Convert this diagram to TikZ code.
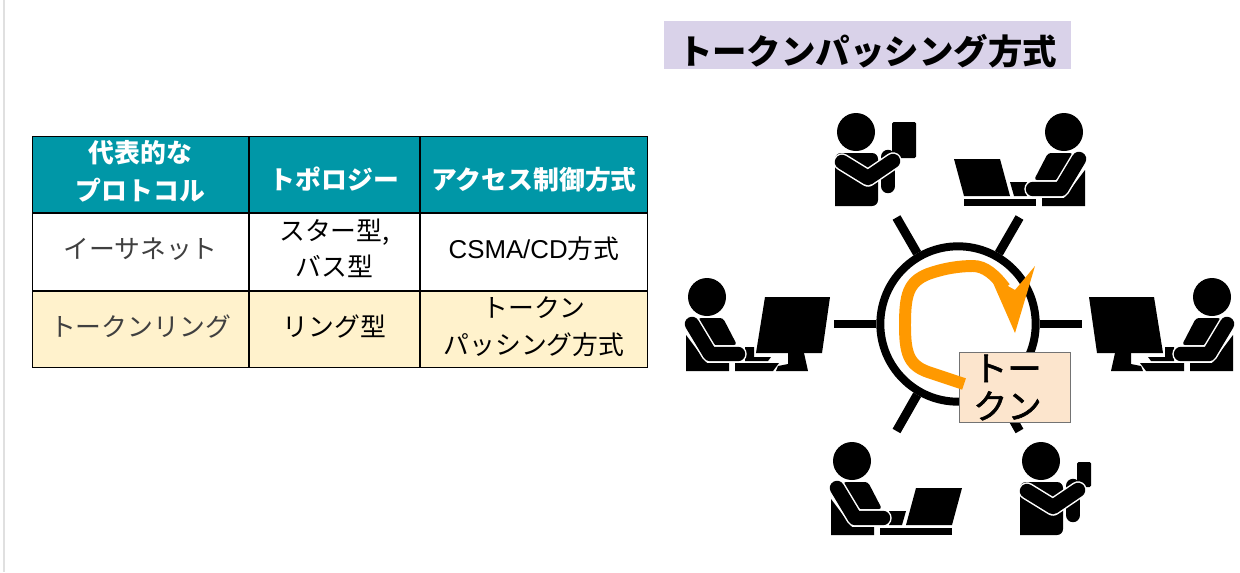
\documentclass[tikz,border=0pt]{standalone}
\usepackage{fontspec}
\setmainfont{Noto Sans CJK JP}
\newfontfamily\latinfont{Liberation Sans}
\newfontfamily\tokenfont[FakeBold=1.6]{Noto Sans CJK JP}
\newcommand{\px}{0.5669pt}

\newcommand{\seatedbody}{
  \fill (0,0) circle[radius=19];
  \fill (-21,38) -- (-21,74) -- (22,74) -- (22,66) -- (0,66) -- cycle;
  \fill[rounded corners=3*\px] (6,48) -- (30,48) -- (16,21) -- (-9,21) -- cycle;
  \draw[armedge] (-15,27) -- (3,57) -- (31,57);
  \draw[armcore] (-15,27) -- (3,57) -- (31,57);
}
\newcommand{\phonebody}[2]{
  \fill (0,0) circle[radius=19];
  \fill[rounded corners=1.5*\px] (36,#2) rectangle (#1,26);
  \draw[armcore] (32,25) -- (32,54);
  \fill[rounded corners=6*\px] (-21,74) -- (-21,21) -- (22,21) -- (22,74) [sharp corners] -- cycle;
  \draw[armedge] (-14,30) -- (12,46) -- (37,29);
  \draw[armcore] (-14,30) -- (12,46) -- (37,29);
}
\tikzset{
  pics/monitoruser/.style={code={
    \fill (58,0) -- (123,0) -- (115,56) -- (49,56) -- cycle;
    \fill (81,56) -- (97,56) -- (101,74) -- (69,74) -- (71,69) -- (81,67) -- cycle;
    \fill (28,66) -- (72,66) -- (66,74) -- (28,74) -- cycle;
    \fill (38,50) -- (47,50) -- (47,60) -- (64,60) -- (61,64) -- (38,64) -- cycle;
    \seatedbody
  }},
  pics/laptopuser/.style={code={
    \fill (64,27) -- (110,27) -- (100,64) -- (54,64) -- cycle;
    \fill (37,50) -- (54,50) -- (50,64) -- (37,64) -- cycle;
    \fill (28,67) rectangle (100,74);
    \seatedbody
  }},
  pics/phoneuser/.style 2 args={code={\phonebody{#1}{#2}}}
}

\begin{document}
\begin{tikzpicture}[x=0.02cm,y=-0.02cm]
  \tikzstyle{armedge}=[white,line width=17.5*\px,line cap=round,line join=round]
  \tikzstyle{armcore}=[black,line width=14.5*\px,line cap=round,line join=round]
  \tikzstyle{cell}=[draw=black,line width=1.2*\px,inner sep=0pt,outer sep=0pt,align=center,
    font=\fontsize{14.7}{21.5}\selectfont,execute at end node={\rule[-4.6pt]{0pt}{0pt}}]
  \tikzstyle{colone}=[cell,minimum width=217*\px]
  \tikzstyle{coltwo}=[cell,minimum width=171*\px]
  \tikzstyle{colthree}=[cell,minimum width=228*\px]
  \tikzstyle{headrow}=[fill=headteal,text=white,minimum height=77*\px,
    font=\fontsize{14.7}{21.5}\selectfont\bfseries]
  \tikzstyle{bodyrow}=[fill=white,minimum height=78*\px]
  \tikzstyle{tintrow}=[fill=rowcream,minimum height=77*\px]
  \tikzstyle{spoke}=[line width=9*\px]
  \definecolor{headteal}{HTML}{0097A7}
  \definecolor{rowcream}{HTML}{FFF2CC}
  \definecolor{softgray}{HTML}{404040}
  \definecolor{titlelilac}{HTML}{D9D2E9}
  \definecolor{tokenpeach}{HTML}{FCE5CD}
  \definecolor{tokenorange}{HTML}{FF9900}

  \useasboundingbox (0,0) rectangle (1240,572);
  \draw[black!12,line width=1.5*\px] (4,0) -- (4,572);

  % table
  \node (proto) at (140.5,174.5) [colone,headrow] {代表的な\\プロトコル};
  \node (topo) at (334.5,174.5) [coltwo,headrow] {\ \\トポロジー};
  \node (access) at (534,174.5) [colthree,headrow] {\ \\アクセス制御方式};
  \node (ether) at (140.5,252) [colone,bodyrow,text=softgray] {イーサネット};
  \node (star) at (334.5,252) [coltwo,bodyrow] {スター型,\\[-1.2pt]バス型};
  \node (csma) at (534,252) [colthree,bodyrow] {{\latinfont CSMA/CD}方式};
  \node (tokenring) at (140.5,329.5) [colone,tintrow,text=softgray] {トークンリング};
  \node (ringtype) at (334.5,329.5) [coltwo,tintrow] {リング型};
  \node (passing) at (534,329.5) [colthree,tintrow] {トークン\\パッシング方式};

  % title
  \node (title) at (867.5,45) [fill=titlelilac,inner sep=0pt,minimum width=408*\px,minimum height=48*\px,
    text height=40*\px,text depth=0pt,font=\fontsize{19.6}{23}\selectfont\bfseries] {トークンパッシング方式};

  % ring and spokes
  \node (ring) at (958,324) [draw,circle,line width=8*\px,inner sep=0pt,minimum size=156*\px] {};
  \coordinate (east) at (1082,324);
  \coordinate (west) at (834,324);
  \coordinate (northeast) at (1019.5,217.5);
  \coordinate (northwest) at (896.5,217.5);
  \coordinate (southeast) at (1019.5,431);
  \coordinate (southwest) at (896.5,431);
  \draw[spoke] (ring.0) -- (east);
  \draw[spoke] (ring.180) -- (west);
  \draw[spoke] (ring.60) -- (northeast);
  \draw[spoke] (ring.120) -- (northwest);
  \draw[spoke] (ring.300) -- (southeast);
  \draw[spoke] (ring.240) -- (southwest);

  % users
  \pic at (856,132) {phoneuser={60}{-10}};
  \pic[xscale=-1] at (1064,132) {laptopuser};
  \pic at (707,297) {monitoruser};
  \pic[xscale=-1] at (1212,297) {monitoruser};
  \pic at (852,461) {laptopuser};
  \pic at (1041,461) {phoneuser={50}{1}};

  % token
  \node (token) at (1015,387.5) [draw=black!55,line width=1.2*\px,fill=tokenpeach,inner sep=0pt,inner xsep=14*\px,
    minimum width=112*\px,minimum height=71*\px,text width=84*\px,align=left,
    font=\fontsize{19.5}{21.5}\selectfont\tokenfont] {トー\\クン};
  \coordinate (tokenend) at (964,384);
  \draw[tokenorange,line width=12*\px] (tokenend) -- (928,372)
    .. controls (908,365) and (905,352) .. (905,325)
    .. controls (905,295) and (908,282) .. (928,274)
    .. controls (945,268) and (960,266) .. (973,266)
    .. controls (985,266) and (995,275) .. (1005,288);
  \fill[tokenorange] (1035,266) -- (1015,290) -- (990,276) -- (1015,333) -- cycle;
\end{tikzpicture}
\end{document}
